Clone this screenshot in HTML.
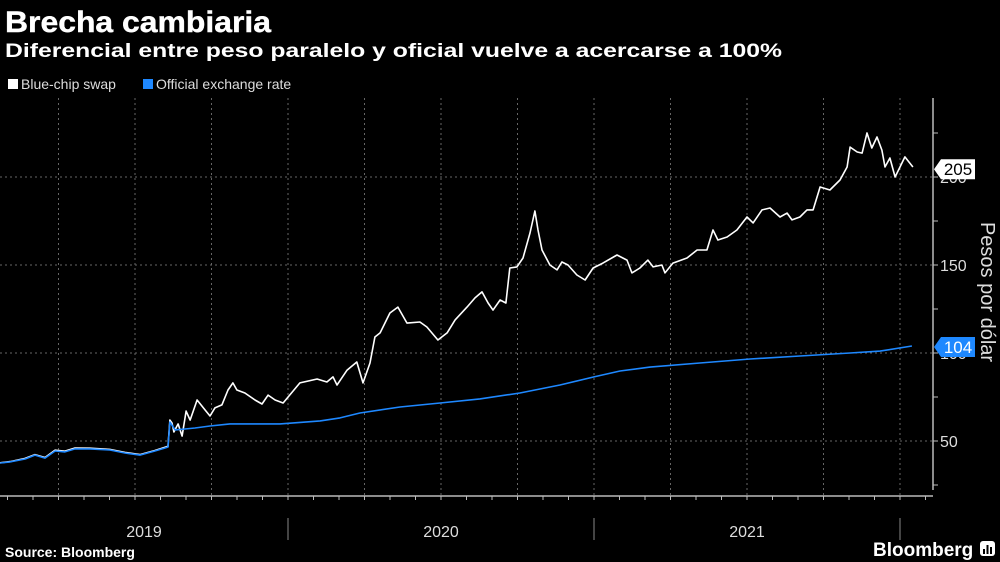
<!DOCTYPE html>
<html><head><meta charset="utf-8"><style>
html,body{margin:0;padding:0;background:#000;}
svg{display:block;font-family:"Liberation Sans",sans-serif;}
</style></head><body>
<svg id="chart" width="1000" height="562" viewBox="0 0 1000 562">
<rect width="1000" height="562" fill="#000"/>
<text x="5" y="32" fill="#fff" font-size="30" font-weight="bold" textLength="266" lengthAdjust="spacingAndGlyphs" stroke="#fff" stroke-width="0.4">Brecha cambiaria</text>
<text x="5" y="57" fill="#fff" font-size="19" font-weight="bold" textLength="777" lengthAdjust="spacingAndGlyphs">Diferencial entre peso paralelo y oficial vuelve a acercarse a 100%</text>
<g>
<g><rect x="8" y="79" width="10" height="10" fill="#fff"/><text x="21" y="89" fill="#ddd" font-size="14">Blue-chip swap</text></g>
<g><rect x="143" y="79" width="10" height="10" fill="#1e88ff"/><text x="156" y="89" fill="#ddd" font-size="14">Official exchange rate</text></g>
</g>
<g id="grid"></g>
<g id="axes"></g>
<g id="series"></g>
<g id="callouts"></g>
<text transform="translate(981,292) rotate(90)" text-anchor="middle" fill="#ddd" font-size="20">Pesos por dólar</text>
<text x="5" y="557" fill="#fff" font-size="14" font-weight="bold">Source: Bloomberg</text>
<text x="873" y="556" fill="#fff" font-size="19" font-weight="bold">Bloomberg</text>
<g><rect x="980" y="541" width="15" height="15" rx="3" fill="#fff"/><rect x="983" y="549" width="2" height="5" fill="#000"/><rect x="986.5" y="545" width="2" height="9" fill="#000"/><rect x="990" y="547" width="2" height="7" fill="#000"/></g>
</svg>
<script>
const officialDates=[2019.059,2019.092,2019.141,2019.173,2019.206,2019.239,2019.271,2019.304,2019.353,2019.418,2019.467,2019.516,2019.565,2019.598,2019.608,2019.614,2019.631,2019.663,2019.696,2019.745,2019.810,2019.974,2020.105,2020.170,2020.235,2020.366,2020.497,2020.627,2020.758,2020.889,2021.000,2021.085,2021.183,2021.346,2021.510,2021.673,2021.837,2021.935,2022.039];
const officialValues=[37.5,38.1,39.8,42.0,40.3,44.3,43.8,45.5,45.5,44.9,43.2,42.0,44.3,46.0,46.6,60.8,56.3,56.8,57.4,58.5,59.7,59.7,61.4,63.1,65.9,69.3,71.6,73.9,77.3,81.8,86.4,89.8,92.0,94.3,96.6,98.3,100.0,101.1,104.0];
const ccDates=[2019.059,2019.092,2019.141,2019.173,2019.206,2019.239,2019.271,2019.304,2019.353,2019.418,2019.467,2019.516,2019.565,2019.598,2019.608,2019.614,2019.621,2019.627,2019.641,2019.654,2019.667,2019.680,2019.703,2019.729,2019.745,2019.761,2019.784,2019.804,2019.820,2019.833,2019.859,2019.892,2019.915,2019.935,2019.958,2019.984,2020.039,2020.095,2020.127,2020.147,2020.160,2020.193,2020.225,2020.245,2020.268,2020.284,2020.301,2020.333,2020.359,2020.389,2020.431,2020.454,2020.490,2020.520,2020.546,2020.585,2020.611,2020.634,2020.654,2020.670,2020.693,2020.712,2020.725,2020.748,2020.768,2020.791,2020.807,2020.817,2020.830,2020.856,2020.879,2020.895,2020.915,2020.944,2020.971,2020.997,2021.029,2021.075,2021.108,2021.124,2021.150,2021.176,2021.193,2021.222,2021.232,2021.258,2021.304,2021.337,2021.369,2021.389,2021.405,2021.435,2021.467,2021.500,2021.520,2021.549,2021.575,2021.608,2021.631,2021.647,2021.673,2021.696,2021.716,2021.739,2021.771,2021.804,2021.827,2021.837,2021.860,2021.876,2021.892,2021.908,2021.925,2021.941,2021.951,2021.967,2021.984,2022.000,2022.016,2022.042];
const ccValues=[37.6,38.3,40.1,42.3,40.6,44.8,44.2,46.0,45.9,45.2,43.5,42.3,44.6,46.4,47.0,61.9,60.2,55.1,59.7,52.8,67.0,61.9,73.3,67.6,64.2,68.8,70.5,79.0,83.0,79.0,77.3,73.3,71.0,76.1,73.3,71.6,83.0,85.2,83.5,86.4,81.8,90.3,94.9,83.0,94.3,109.1,111.4,122.7,126.1,117.0,117.6,114.8,107.4,111.4,118.8,126.1,131.3,134.7,128.4,124.4,130.1,128.4,148.3,148.9,154.0,168.2,180.7,169.9,158.5,150.0,147.2,151.7,150.0,144.3,141.5,148.3,151.1,155.7,152.8,145.5,148.3,152.8,148.9,150.0,145.5,151.1,154.0,158.5,158.5,169.9,164.2,165.9,169.9,177.3,173.9,181.3,182.4,177.3,179.5,175.6,177.3,181.3,181.3,194.3,192.6,198.3,205.7,217.0,214.2,213.6,225.0,216.5,222.7,215.3,205.7,210.8,200.0,205.7,211.4,205.7];
const yTicks=[50,100,150,200];
const yMinorTicks=[25,75,125,175,225];
const yearLabels=["2019","2020","2021"];
const yearStarts=[2019,2020,2021,2022];
const lastCC=205, lastOfficial=104;

const NS="http://www.w3.org/2000/svg";
const X0=-18, XPY=306;
function xs(t){return X0+(t-2019)*XPY;}
function ys(v){return 441-(v-50)*1.76;}
function mk(tag,attrs,parent){const e=document.createElementNS(NS,tag);for(const k in attrs)e.setAttribute(k,attrs[k]);parent.appendChild(e);return e;}
const grid=document.getElementById('grid'),axes=document.getElementById('axes'),series=document.getElementById('series'),call=document.getElementById('callouts');
const TOP=98,BOT=496,RIGHT=933;
yTicks.forEach(v=>{const l=mk('line',{x1:0,x2:RIGHT,y1:ys(v),y2:ys(v),stroke:'#666','stroke-dasharray':'2,3','stroke-width':1},grid);

});
for(let q=1;q<=12;q++){const x=xs(2019+q/4);const l=mk('line',{x1:x,x2:x,y1:TOP,y2:BOT,stroke:'#666','stroke-dasharray':'2,3','stroke-width':1},grid);

}
const ya=mk('line',{x1:RIGHT,x2:RIGHT,y1:TOP,y2:490,stroke:'#bbb','stroke-width':1.5},axes);


const xa=mk('line',{x1:0,x2:RIGHT,y1:BOT,y2:BOT,stroke:'#bbb','stroke-width':1.5},axes);


yTicks.concat(yMinorTicks).forEach(v=>{const t=mk('line',{x1:RIGHT,x2:RIGHT+5,y1:ys(v),y2:ys(v),stroke:'#bbb','stroke-width':1},axes);

});
yTicks.forEach(v=>{const t=mk('text',{x:RIGHT+7,y:ys(v)+6,fill:'#ddd','font-size':16},axes);t.textContent=String(v);

});
for(let m=1;m<=37;m++){const x=xs(2019+m/12);if(x>RIGHT)break;const t=mk('line',{x1:x,x2:x,y1:BOT,y2:BOT+4,stroke:'#bbb','stroke-width':1},axes);

}
yearStarts.slice(1).forEach(y=>{const x=xs(y);const t=mk('line',{x1:x,x2:x,y1:518,y2:540,stroke:'#888','stroke-width':1},axes);

});
yearLabels.forEach((lab,i)=>{let c=(Math.max(0,xs(yearStarts[i]))+xs(yearStarts[i+1]))/2;const t=mk('text',{x:c,y:537,fill:'#ddd','font-size':16,'text-anchor':'middle'},axes);t.textContent=lab;

});
function path(d,v){return d.map((t,i)=>(i?'L':'M')+xs(t).toFixed(1)+','+ys(v[i]).toFixed(1)).join('');}
const pw=mk('path',{d:path(ccDates,ccValues),fill:'none',stroke:'#fff','stroke-width':1.6,'stroke-linejoin':'round'},series);


const pb=mk('path',{d:path(officialDates,officialValues),fill:'none',stroke:'#1e88ff','stroke-width':1.6,'stroke-linejoin':'round'},series);


function callout(v,bg,fg,name){const y=ys(v)+1;const g=mk('g',{},call);


mk('path',{d:`M${RIGHT+1},${y} L${RIGHT+8},${y-10} L${RIGHT+42},${y-10} L${RIGHT+42},${y+10} L${RIGHT+8},${y+10} Z`,fill:bg},g);
const t=mk('text',{x:RIGHT+25,y:y+6,fill:fg,'font-size':17,'text-anchor':'middle'},g);t.textContent=String(v);}
callout(lastCC,'#fff','#000','callout-blue-chip-last');
callout(lastOfficial,'#1e88ff','#fff','callout-official-last');
</script>
</body></html>
